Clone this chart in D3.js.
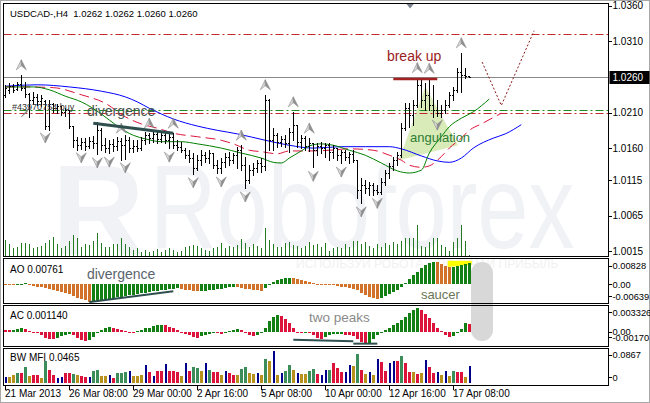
<!DOCTYPE html>
<html><head><meta charset="utf-8">
<script src="https://cdn.jsdelivr.net/npm/d3@7"></script>
<style>html,body{margin:0;padding:0;background:#fff}svg{display:block}</style>
</head><body><svg id="c" width="650" height="403"></svg>
<script>
// ---------------- DATA ----------------
const opens = [1.0235,1.0242,1.0247,1.0243,1.0250,1.0245,1.0236,1.0228,1.0232,1.0226,
1.0226,1.0191,1.0222,1.0216,1.0219,1.0211,1.0214,1.0191,1.0171,1.0164,
1.0169,1.0163,1.0170,1.0167,1.0185,1.0164,1.0160,1.0166,1.0163,1.0170,
1.0164,1.0171,1.0160,1.0163,1.0160,1.0171,1.0178,1.0174,1.0180,1.0173,
1.0178,1.0171,1.0176,1.0164,1.0162,1.0157,1.0150,1.0146,1.0132,1.0143,
1.0150,1.0146,1.0153,1.0136,1.0132,1.0140,1.0148,1.0143,1.0150,1.0157,
1.0136,1.0115,1.0129,1.0132,1.0139,1.0135,1.0228,1.0171,1.0178,1.0169,
1.0173,1.0167,1.0183,1.0193,1.0169,1.0174,1.0163,1.0167,1.0157,1.0163,
1.0160,1.0164,1.0155,1.0160,1.0150,1.0155,1.0148,1.0152,1.0143,1.0101,
1.0108,1.0104,1.0108,1.0101,1.0098,1.0112,1.0125,1.0135,1.0143,1.0150,
1.0188,1.0216,1.0207,1.0221,1.0249,1.0228,1.0235,1.0221,1.0214,1.0209,
1.0214,1.0221,1.0235,1.0242,1.0267,1.0263,1.0262];
const highs = [1.0249,1.0252,1.0250,1.0253,1.0263,1.0253,1.0238,1.0239,1.0236,1.0235,
1.0228,1.0228,1.0223,1.0222,1.0219,1.0216,1.0214,1.0191,1.0176,1.0174,
1.0174,1.0176,1.0177,1.0197,1.0188,1.0174,1.0171,1.0173,1.0176,1.0174,
1.0178,1.0176,1.0171,1.0171,1.0176,1.0183,1.0181,1.0183,1.0184,1.0183,
1.0181,1.0180,1.0181,1.0171,1.0169,1.0160,1.0157,1.0153,1.0150,1.0157,
1.0155,1.0157,1.0153,1.0143,1.0146,1.0153,1.0155,1.0153,1.0162,1.0164,
1.0148,1.0136,1.0139,1.0143,1.0146,1.0235,1.0229,1.0188,1.0181,1.0177,
1.0178,1.0188,1.0211,1.0193,1.0178,1.0177,1.0174,1.0167,1.0167,1.0169,
1.0167,1.0167,1.0164,1.0160,1.0157,1.0157,1.0155,1.0157,1.0143,1.0118,
1.0115,1.0112,1.0111,1.0108,1.0118,1.0129,1.0139,1.0148,1.0155,1.0195,
1.0223,1.0223,1.0228,1.0259,1.0256,1.0252,1.0258,1.0249,1.0228,1.0221,
1.0228,1.0239,1.0246,1.0273,1.0294,1.0273,1.0262];
const lows = [1.0232,1.0238,1.0239,1.0242,1.0242,1.0232,1.0204,1.0222,1.0221,1.0219,
1.0187,1.0185,1.0211,1.0209,1.0207,1.0205,1.0188,1.0162,1.0157,1.0159,
1.0157,1.0160,1.0160,1.0152,1.0157,1.0155,1.0153,1.0156,1.0157,1.0143,
1.0145,1.0155,1.0155,1.0156,1.0157,1.0166,1.0167,1.0169,1.0167,1.0169,
1.0167,1.0160,1.0160,1.0157,1.0155,1.0146,1.0140,1.0124,1.0129,1.0136,
1.0140,1.0139,1.0132,1.0125,1.0125,1.0133,1.0136,1.0139,1.0132,1.0129,
1.0104,1.0111,1.0122,1.0126,1.0126,1.0129,1.0157,1.0157,1.0162,1.0163,
1.0162,1.0155,1.0171,1.0162,1.0160,1.0157,1.0156,1.0133,1.0150,1.0153,
1.0148,1.0143,1.0146,1.0143,1.0139,1.0143,1.0139,1.0140,1.0090,1.0083,
1.0097,1.0094,1.0094,1.0095,1.0096,1.0108,1.0118,1.0129,1.0136,1.0148,
1.0185,1.0190,1.0193,1.0218,1.0218,1.0214,1.0214,1.0204,1.0205,1.0204,
1.0209,1.0218,1.0228,1.0239,1.0239,1.0259,1.0260];
const closes = [1.0245,1.0247,1.0242,1.0250,1.0245,1.0236,1.0228,1.0232,1.0226,1.0230,
1.0191,1.0222,1.0216,1.0219,1.0211,1.0214,1.0191,1.0171,1.0164,1.0169,
1.0163,1.0170,1.0167,1.0185,1.0164,1.0160,1.0166,1.0163,1.0170,1.0164,
1.0171,1.0160,1.0163,1.0160,1.0171,1.0178,1.0174,1.0180,1.0173,1.0178,
1.0171,1.0176,1.0164,1.0162,1.0157,1.0150,1.0146,1.0132,1.0143,1.0150,
1.0146,1.0153,1.0136,1.0132,1.0140,1.0148,1.0143,1.0150,1.0157,1.0136,
1.0115,1.0129,1.0132,1.0139,1.0135,1.0228,1.0171,1.0178,1.0169,1.0173,
1.0167,1.0183,1.0193,1.0169,1.0174,1.0163,1.0167,1.0157,1.0163,1.0160,
1.0164,1.0155,1.0160,1.0150,1.0155,1.0148,1.0152,1.0143,1.0101,1.0108,
1.0104,1.0108,1.0101,1.0098,1.0112,1.0125,1.0135,1.0143,1.0150,1.0188,
1.0216,1.0207,1.0221,1.0249,1.0228,1.0235,1.0221,1.0214,1.0209,1.0214,
1.0221,1.0235,1.0242,1.0267,1.0263,1.0261,1.0260];
const volumes = [1600,1200,800,900,1300,1300,1200,800,900,1000,
1300,1600,1900,1200,800,1000,1500,2100,1800,900,
1200,1100,1500,2300,1300,900,900,1200,1200,1800,
1200,900,600,800,400,600,400,500,700,400,
600,800,600,400,500,900,1000,1100,1000,800,
600,500,800,900,1300,800,1000,900,1100,1700,
1300,900,1200,1000,800,2800,1600,1200,900,900,
1300,1400,1100,1000,800,1000,1400,1100,1200,900,
1300,500,800,900,800,1200,900,1500,1500,1200,
1400,1000,800,1200,900,1300,1100,1400,1200,1500,
1800,1800,1800,3100,1000,900,1400,1800,1800,1100,
900,500,1400,1800,3100,1500,100];
// Alligator lines: [bar index, price]
const jawLine = [[0,1.0247],[8,1.0249],[16,1.0246],[24,1.0240],[30,1.0232],[33,1.0225],[36,1.0216],[39,1.0208],[42,1.0201],[48,1.0191],[53,1.0185],[58,1.0180],[65,1.0171],[71,1.0164],[77,1.0160],[84,1.0162],[90,1.0162],[96,1.0162],[99,1.0159],[104,1.0149],[108,1.0142],[111,1.0140],[114,1.0146],[117,1.0160],[122,1.0174],[125,1.0180],[129,1.0193]];
const teethLine = [[0,1.0246],[5,1.0246],[12,1.0245],[19,1.0235],[25,1.0223],[30,1.0204],[34,1.0194],[38,1.0188],[42,1.0181],[48,1.0176],[54,1.0171],[57,1.0166],[61,1.0157],[64,1.0155],[68,1.0152],[71,1.0156],[76,1.0156],[81,1.0157],[86,1.0159],[92,1.0157],[96,1.0150],[99,1.0143],[101,1.0136],[104,1.0133],[106,1.0135],[109,1.0148],[111,1.0160],[114,1.0174],[116,1.0185],[119,1.0194],[124,1.0209]];
const lipsLine = [[0,1.0246],[7,1.0246],[11,1.0242],[15,1.0233],[19,1.0225],[24,1.0208],[28,1.0191],[32,1.0178],[35,1.0173],[39,1.0169],[44,1.0169],[48,1.0166],[54,1.0160],[59,1.0153],[64,1.0146],[67,1.0140],[69,1.0139],[71,1.0146],[74,1.0156],[76,1.0163],[79,1.0166],[82,1.0164],[86,1.0157],[90,1.0150],[94,1.0139],[98,1.0128],[101,1.0125],[104,1.0129],[106,1.0153],[109,1.0176],[111,1.0190],[114,1.0202],[117,1.0211],[121,1.0229]];
const aoValues = [-0.0003,-0.0004,-0.0004,-0.0003,0.0002,0.0003,-0.0002,-0.0007,-0.0010,-0.0012,
-0.0015,-0.0018,-0.0021,-0.0024,-0.0028,-0.0032,-0.0036,-0.0042,-0.0050,-0.0056,
-0.0060,-0.00639,-0.0062,-0.0060,-0.0057,-0.0055,-0.0053,-0.0050,-0.0048,-0.0046,
-0.0044,-0.0041,-0.0039,-0.0036,-0.0034,-0.0031,-0.0029,-0.0027,-0.0025,-0.0023,
-0.0021,-0.0019,-0.0017,-0.0016,-0.0018,-0.0021,-0.0023,-0.0025,-0.0026,-0.0025,
-0.0024,-0.0023,-0.0021,-0.0019,-0.0017,-0.0015,-0.0012,-0.0010,-0.0012,-0.0014,
-0.0017,-0.0019,-0.0021,-0.0023,-0.0024,-0.0016,-0.0004,0.0008,0.0015,0.0019,
0.0021,0.0023,0.0021,0.0019,0.0016,0.0012,0.0008,0.0005,0.0002,-0.0001,
-0.0002,-0.0003,-0.0004,-0.0006,-0.0009,-0.0011,-0.0014,-0.0017,-0.0023,-0.0031,
-0.0039,-0.0046,-0.0051,-0.0053,-0.0050,-0.0044,-0.0037,-0.0029,-0.0020,-0.0010,
0.0004,0.0018,0.0032,0.0046,0.0059,0.0070,0.0078,0.00828,0.0080,0.0074,
0.0068,0.0061,0.0063,0.0067,0.0071,0.0074,0.00761];
const acValues = [0.0002,0.0002,0.0003,0.0004,0.0006,0.0004,0.0001,-0.0001,-0.0002,-0.0005,
-0.0008,-0.0010,-0.0010,-0.0008,-0.0006,-0.0004,-0.0003,-0.0005,-0.0009,-0.0012,
-0.0013,-0.0011,-0.0007,-0.0002,0.0003,0.0006,0.0007,0.0006,0.0004,0.0002,
0.0001,0.0000,-0.0001,0.0001,0.0003,0.0005,0.0006,0.0008,0.0009,0.0010,
0.0009,0.0007,0.0005,0.0002,-0.0001,-0.0003,-0.0005,-0.0007,-0.0008,-0.0006,
-0.0005,-0.0003,-0.0001,-0.0002,-0.0003,-0.0001,0.0001,0.0003,0.0004,0.0002,
-0.0002,-0.0004,-0.0006,-0.0005,-0.0002,0.0006,0.0015,0.0021,0.0023,0.0022,
0.0018,0.0012,0.0005,-0.0001,-0.0002,-0.0001,-0.0002,-0.0005,-0.0008,-0.0010,
-0.0007,-0.0004,-0.0003,-0.0003,-0.0003,-0.0004,-0.0005,-0.0006,-0.0010,-0.0014,
-0.0017,-0.0016,-0.0010,-0.0005,-0.0001,0.0003,0.0006,0.0009,0.0012,0.0016,
0.0021,0.0026,0.0030,0.003326,0.0031,0.0025,0.0019,0.0012,0.0006,0.0001,
-0.0004,-0.0007,-0.0006,-0.0002,0.0004,0.0012,0.00114];
const mfiValues = [0.0163,0.0163,0.0217,0.0271,0.0271,0.0434,0.0190,0.0217,0.0217,0.0136,
0.0596,0.0352,0.0217,0.0136,0.0163,0.0271,0.0271,0.0244,0.0217,0.0190,
0.0163,0.0163,0.0325,0.0352,0.0190,0.0190,0.0217,0.0136,0.0271,0.0271,
0.0298,0.0325,0.0190,0.0190,0.0217,0.0488,0.0298,0.0190,0.0325,0.0325,
0.0515,0.0325,0.0325,0.0298,0.0190,0.0542,0.0325,0.0434,0.0407,0.0325,
0.0542,0.0352,0.0298,0.0298,0.0217,0.0325,0.0271,0.0217,0.0217,0.0379,
0.0434,0.0271,0.0244,0.0271,0.0217,0.0650,0.0596,0.0867,0.0217,0.0271,
0.0325,0.0488,0.0352,0.0271,0.0244,0.0244,0.0325,0.0379,0.0244,0.0217,
0.0352,0.0352,0.0542,0.0407,0.0298,0.0298,0.0488,0.0465,0.0786,0.0352,
0.0244,0.0298,0.0217,0.0650,0.0569,0.0325,0.0542,0.0596,0.0596,0.0732,
0.0542,0.0298,0.0298,0.0244,0.0271,0.0623,0.0434,0.0271,0.0298,0.0217,
0.0325,0.0190,0.0325,0.0298,0.0298,0.0163,0.0465];
// g = green, y = fade, r = squat, b = fake
const mfiKinds = "byygrgyrry" + "grrbbrrgyr" + "rbggyybrgg" + "gbyyybrbrr" + "brrrybrggy" +
                 "bgrrybrryg" + "gyybygybyb" + "ggybyyggrb" + "bgrrrbbygr" + "ybybrrbbrg" +
                 "rryrybrrby" + "bygrryb";
const priceTicks = [1.0360, 1.0310, 1.0210, 1.0160, 1.0115, 1.0065, 1.0015];
const currentPrice = 1.0260;
const dateTicks = [0,16,32,48,64,80,96,112];
const dateLabels = ["21 Mar 2013","26 Mar 08:00","29 Mar 00:00","2 Apr 16:00","5 Apr 08:00","10 Apr 00:00","12 Apr 16:00","17 Apr 08:00"];
const upFractals = [4,29,36,42,59,65,72,76,103,106,114];
const downFractals = [10,19,23,26,30,41,47,54,60,77,84,89,93,108];
const levelPrices = [1.0320, 1.0213, 1.0209];
const levelColors = ["#c0282a","#1f8a1f","#c0282a"];
const aoTicks = [[0.00828,"0.00828"],[0,"0.00"],[-0.00639,"-0.00639"]];
const acTicks = [[0.003326,"0.003326"],[0,"0.00"],[-0.0017,"-0.00170"]];
const bwTicks = [[0.0867,"0.0867"],[0,"0"]];
// annotations
const breakUpLine = [[97,1.0257],[108,1.0257]];
const forecastLine = [[119.2,1.0281],[124,1.0220],[132.2,1.0325]];
const divergenceMain = [[22,1.0195],[42,1.0181]];
const divergenceAO = [[21,-0.0066],[42,-0.0026]];
const twoPeaksA = [[72,-0.0011],[87,-0.0013]];
const twoPeaksB = [[87,-0.00165],[93,-0.00165]];
const angulationArea = [[105,1.0246],[98.4,1.0143],[113.2,1.0164]];
const saucerArea = [[110.6,0.0086],[116.6,0.0086],[116.6,0.0071],[110.6,0.0063]];

// ---------------- SCALES ----------------
const F = "Liberation Sans, Arial, sans-serif";
const svg = d3.select("#c");
const x = d3.scaleLinear().domain([0,116]).range([5.3,469.3]);
const yM = d3.scaleLinear().domain([1.00083,1.03626]).range([256,4]);
const yAO = d3.scaleLinear().domain([-0.00639,0.00828]).range([301.5,261.5]);
const yAC = d3.scaleLinear().domain([-0.0017,0.003326]).range([344,308]);
const yBW = d3.scaleLinear().domain([0,0.0867]).range([383,351]);
const yV = d3.scaleLinear().domain([0,3200]).range([256,224]);
const L = 3.5, R = 608.5;
const P = {main:[3.5,256.5], ao:[258.5,303.5], ac:[305.5,346.5], bw:[348.5,385.5]};

svg.append("rect").attr("width",650).attr("height",403).attr("fill","#fff");
const defs = svg.append("defs");
Object.entries(P).forEach(([k,[t,b]])=>{
  defs.append("clipPath").attr("id","clip-"+k).append("rect").attr("x",L+0.5).attr("y",t+0.5).attr("width",R-L-1).attr("height",b-t-1);
});

// ---------------- MAIN PANEL ----------------
const gm = svg.append("g").attr("clip-path","url(#clip-main)");
gm.append("text").attr("x",52).attr("y",255).attr("font-family",F).attr("font-weight","bold")
  .attr("font-size",128).attr("fill","#f0f2f6").text("R");
gm.append("text").attr("transform","translate(150,248) scale(0.78,1)").attr("font-family",F).attr("font-size",118)
  .attr("fill","#f0f2f6").text("Roboforex");

// angulation shading
gm.append("path").attr("d", d3.line().x(d=>x(d[0])).y(d=>yM(d[1]))(angulationArea)+"Z")
  .attr("fill","#d6eab5").attr("opacity",0.95);

// volumes
gm.append("g").selectAll("rect").data(volumes).join("rect")
  .attr("x",(d,i)=>Math.round(x(i))).attr("width",1)
  .attr("y",d=>yV(d)).attr("height",d=>256-yV(d)).attr("fill","#237a23");

// level lines (dash-dot)
levelPrices.forEach((p,k)=>{
  gm.append("line").attr("x1",L).attr("x2",R).attr("y1",Math.round(yM(p))+0.5).attr("y2",Math.round(yM(p))+0.5)
    .attr("stroke",levelColors[k]).attr("stroke-width",1).attr("stroke-dasharray","8,3,2,3");
});

// alligator
const lineP = d3.line().x(d=>x(d[0])).y(d=>yM(d[1])).curve(d3.curveMonotoneX);
gm.append("path").attr("d",lineP(jawLine)).attr("fill","none").attr("stroke","#0000ff").attr("stroke-width",1);
gm.append("path").attr("d",lineP(teethLine)).attr("fill","none").attr("stroke","#dc143c").attr("stroke-width",1).attr("stroke-dasharray","10,5");
gm.append("path").attr("d",lineP(lipsLine)).attr("fill","none").attr("stroke","#008000").attr("stroke-width",1);

// current price line
gm.append("line").attr("x1",L).attr("x2",R).attr("y1",Math.round(yM(currentPrice))+0.5).attr("y2",Math.round(yM(currentPrice))+0.5)
  .attr("stroke","#8a8a8a").attr("stroke-width",1);

// OHLC bars
const gb = gm.append("g").attr("shape-rendering","crispEdges").attr("fill","#000");
opens.forEach((o,i)=>{
  const px = Math.round(x(i));
  const yh = Math.round(yM(highs[i])), yl = Math.round(yM(lows[i]));
  gb.append("rect").attr("x",px).attr("width",1).attr("y",yh).attr("height",Math.max(1,yl-yh+1));
  gb.append("rect").attr("x",px-1).attr("width",1).attr("y",Math.round(yM(o))).attr("height",1);
  gb.append("rect").attr("x",px+1).attr("width",1).attr("y",Math.round(yM(closes[i]))).attr("height",1);
});

// fractal arrows
function arrow(g,cx,cy,up){
  const s = up?1:-1;
  g.append("path").attr("d",`M${cx},${cy-5*s}L${cx},${cy+1*s}L${cx-5},${cy+5*s}Z`)
    .attr("fill","#dadada").attr("stroke","#8c8c8c").attr("stroke-width",0.6);
  g.append("path").attr("d",`M${cx},${cy-5*s}L${cx+5},${cy+5*s}L${cx},${cy+1*s}Z`)
    .attr("fill","#8e8e8e").attr("stroke","#8c8c8c").attr("stroke-width",0.6);
}
const gf = gm.append("g");
upFractals.forEach(i=>arrow(gf,x(i),yM(highs[i])-10,true));
downFractals.forEach(i=>arrow(gf,x(i),yM(lows[i])+9,false));
// trade marker
{
  const cx = x(5), cy = yM(1.0211);
  gf.append("path").attr("d",`M${cx-4},${cy+5}L${cx+4},${cy-4}L${cx+1},${cy+1}Z`).attr("fill","#9a9a9a").attr("stroke","#777").attr("stroke-width",0.6);
}

// annotations
const lp = d3.line().x(d=>x(d[0])).y(d=>yM(d[1]));
gm.append("path").attr("d",lp(divergenceMain)).attr("stroke","#2f4f4f").attr("stroke-width",3).attr("fill","none");
gm.append("path").attr("d",lp(breakUpLine)).attr("stroke","#a52020").attr("stroke-width",2.5).attr("fill","none");
gm.append("path").attr("d",lp(forecastLine)).attr("stroke","#8b1a1a").attr("stroke-width",1).attr("stroke-dasharray","2,2").attr("fill","none");
gm.append("path").attr("d",`M${x(100.2)},3.5L${x(102.2)},3.5L${x(101.2)},8.5Z`).attr("fill","#7a8590");

const txt = (g,xx,yy,s,size,col,fam)=>g.append("text").attr("x",xx).attr("y",yy).attr("font-family",fam||F)
  .attr("font-size",size).attr("fill",col).style("white-space","pre").text(s);
txt(gm,x(95.4),yM(1.02825),"break up",14,"#9a1c1c");
txt(gm,x(20.4),yM(1.02052),"divergence",14,"#44554f");
txt(gm,x(101.2),yM(1.01686),"angulation",13,"#2e7d32");
txt(gm,x(1.7),yM(1.02136),"#43970754 buy",9,"#333");
txt(svg,10,16.5,"USDCAD-,H4  1.0262 1.0262 1.0260 1.0260",9.5,"#000");

// ---------------- AO ----------------
const ga = svg.append("g").attr("clip-path","url(#clip-ao)");
ga.append("text").attr("transform","translate(296,268) scale(0.93,1)").attr("font-family",F).attr("font-size",13)
  .attr("fill","#f1f1f1").text("ИСПОЛЬЗУЙ РОБОТА – ПОЛУЧАЙ ПРИБЫЛЬ");
ga.append("path").attr("d",d3.line().x(d=>x(d[0])).y(d=>yAO(d[1]))(saucerArea)+"Z").attr("fill","#ffff00");
function colorsFor(vals){ let c = false; return vals.map((v,i)=>{ if(i>0){ if(v>vals[i-1]) c=true; else if(v<vals[i-1]) c=false; } return c; }); }
const aoUp = colorsFor(aoValues);
ga.append("g").attr("shape-rendering","crispEdges").selectAll("rect").data(aoValues).join("rect")
  .attr("x",(d,i)=>Math.round(x(i))-1).attr("width",3)
  .attr("y",d=>Math.min(yAO(d),yAO(0))).attr("height",d=>Math.max(1,Math.abs(yAO(d)-yAO(0))))
  .attr("fill",(d,i)=>aoUp[i]?"#138013":"#d2722a");
ga.append("path").attr("d",d3.line().x(d=>x(d[0])).y(d=>yAO(d[1]))(divergenceAO)).attr("stroke","#2f4f4f").attr("stroke-width",2).attr("fill","none");
txt(ga,x(20.4),yAO(0.00187),"divergence",14,"#59646e");
txt(ga,x(103.9),yAO(-0.00547),"saucer",13,"#6a7656");
txt(svg,10,273,"AO 0.00761",10,"#000");

// ---------------- AC ----------------
const gc = svg.append("g").attr("clip-path","url(#clip-ac)");
const acUp = colorsFor(acValues);
gc.append("g").attr("shape-rendering","crispEdges").selectAll("rect").data(acValues).join("rect")
  .attr("x",(d,i)=>Math.round(x(i))-1).attr("width",3)
  .attr("y",d=>Math.min(yAC(d),yAC(0))).attr("height",d=>Math.max(1,Math.abs(yAC(d)-yAC(0))))
  .attr("fill",(d,i)=>acUp[i]?"#138013":"#dc143c");
const lc = d3.line().x(d=>x(d[0])).y(d=>yAC(d[1]));
gc.append("path").attr("d",lc(twoPeaksA)).attr("stroke","#2f4f4f").attr("stroke-width",2).attr("fill","none");
gc.append("path").attr("d",lc(twoPeaksB)).attr("stroke","#2f4f4f").attr("stroke-width",2).attr("fill","none");
txt(gc,x(75.9),yAC(0.00137),"two peaks",13.5,"#8a8a8a");
txt(svg,10,319,"AC 0.001140",10,"#000");

// ---------------- BW MFI ----------------
const gw = svg.append("g").attr("clip-path","url(#clip-bw)");
const bwCol = {g:"#3b8e5a", y:"#b8901c", r:"#dc143c", b:"#00008b"};
gw.append("g").attr("shape-rendering","crispEdges").selectAll("rect").data(mfiValues).join("rect")
  .attr("x",(d,i)=>Math.round(x(i))-(mfiKinds[i]==="b"?0:1)).attr("width",(d,i)=>mfiKinds[i]==="b"?1.5:3)
  .attr("y",d=>yBW(d)).attr("height",d=>yBW(0)-yBW(d))
  .attr("fill",(d,i)=>bwCol[mfiKinds[i]]);
txt(svg,10,361,"BW MFI 0.0465",10,"#000");

// gray overlay pill
svg.append("rect").attr("x",471).attr("y",262).attr("width",22).attr("height",79).attr("rx",11).attr("fill","#d8d8d8");

// ---------------- FRAMES & AXES ----------------
const gx = svg.append("g").attr("shape-rendering","crispEdges");
Object.values(P).forEach(([t,b])=>{
  gx.append("rect").attr("x",L).attr("y",t).attr("width",R-L).attr("height",b-t).attr("fill","none").attr("stroke","#000");
});
svg.append("rect").attr("x",0.5).attr("y",0.5).attr("width",649).attr("height",402).attr("fill","none").attr("stroke","#a8a8a8");

function rightLabel(yy,s,clampT,clampB,fs){
  const yc = Math.max(clampT, Math.min(clampB, yy));
  gx.append("line").attr("x1",R).attr("x2",R+3).attr("y1",Math.round(yc)+0.5).attr("y2",Math.round(yc)+0.5).attr("stroke","#000");
  svg.append("text").attr("x",R+4).attr("y",yc+3.6).attr("font-family",F).attr("font-size",fs||10).attr("fill","#000").text(s);
}
priceTicks.forEach(p=>rightLabel(yM(p),p.toFixed(4),-100,1000));
{
  const yc = Math.round(yM(currentPrice));
  svg.append("rect").attr("x",R+1).attr("y",yc-6).attr("width",40).attr("height",13).attr("fill","#000");
  svg.append("text").attr("x",R+4).attr("y",yc+4).attr("font-family",F).attr("font-size",10).attr("fill","#fff").text(currentPrice.toFixed(4));
}
aoTicks.forEach(([v,s])=>rightLabel(yAO(v),s,P.ao[0]+7,P.ao[1]-7.5,9.3));
acTicks.forEach(([v,s])=>rightLabel(yAC(v),s,P.ac[0]+6.5,P.ac[1]-9.5,9.3));
bwTicks.forEach(([v,s])=>rightLabel(yBW(v),s,P.bw[0]+6,P.bw[1]-8.5,9.3));

dateTicks.forEach((i,k)=>{
  const px = Math.round(x(i))+0.5;
  gx.append("line").attr("x1",px).attr("x2",px).attr("y1",P.bw[1]).attr("y2",P.bw[1]+4).attr("stroke","#000");
  svg.append("text").attr("x",px-0.5).attr("y",397).attr("font-family",F).attr("font-size",10).attr("fill","#000").text(dateLabels[k]);
});
</script></body></html>
